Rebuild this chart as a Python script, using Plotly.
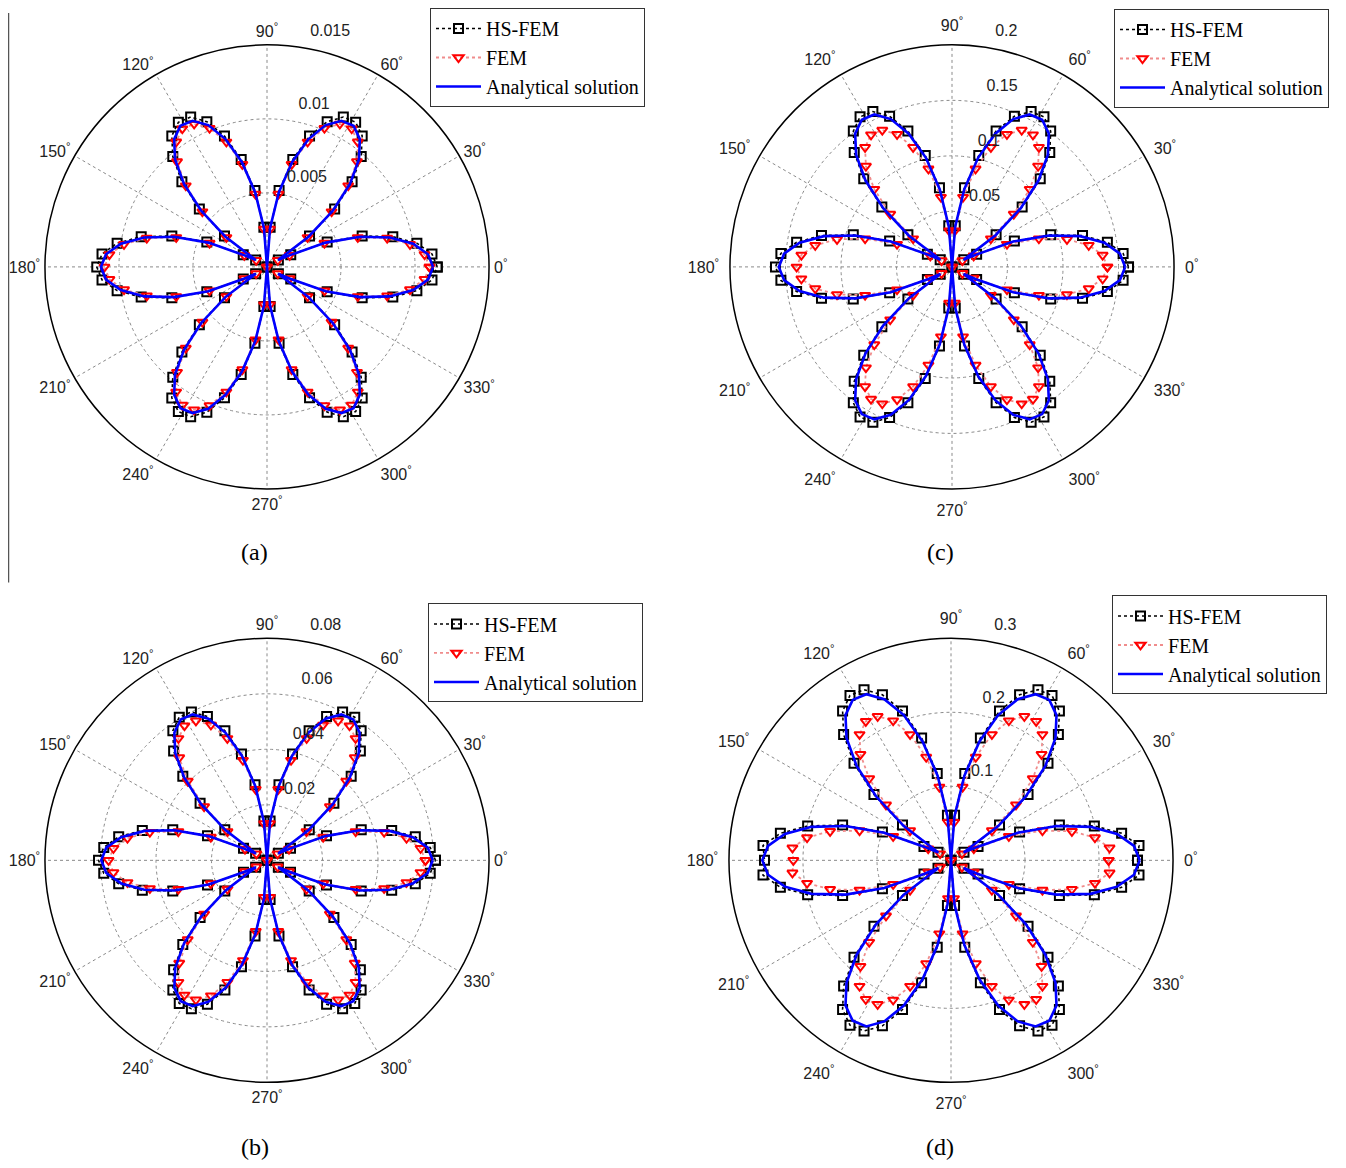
import plotly.graph_objects as go

# page body has an 8px margin, so the figure is drawn 8px smaller and shifted
OFF = 8
FIG_W, FIG_H = 1346 - OFF, 1168 - OFF

# sampling angles (degrees) of the numerical / analytical results
theta_deg = [0, 4.5, 9, 13.5, 18, 22.5, 27, 31.5, 36, 40.5, 45, 49.5, 54, 58.5, 63, 67.5, 72, 76.5, 81, 85.5,
             90, 94.5, 99, 103.5, 108, 112.5, 117, 121.5, 126, 130.5, 135, 139.5, 144, 148.5, 153, 157.5, 162, 166.5, 171, 175.5,
             180, 184.5, 189, 193.5, 198, 202.5, 207, 211.5, 216, 220.5, 225, 229.5, 234, 238.5, 243, 247.5, 252, 256.5, 261, 265.5,
             270, 274.5, 279, 283.5, 288, 292.5, 297, 301.5, 306, 310.5, 315, 319.5, 324, 328.5, 333, 337.5, 342, 346.5, 351, 355.5, 360]

# ---------------- panel (a) ----------------
a_hs = [0.01150, 0.01118, 0.01025, 0.00874, 0.00676, 0.00440, 0.00180, 0.00090, 0.00355, 0.00601, 0.00813, 0.00980, 0.01094, 0.01146, 0.01136, 0.01062, 0.00930, 0.00747, 0.00522, 0.00268, 0.0,
        0.00268, 0.00522, 0.00747, 0.00930, 0.01062, 0.01136, 0.01146, 0.01094, 0.00980, 0.00813, 0.00601, 0.00355, 0.00090, 0.00180, 0.00440, 0.00676, 0.00874, 0.01025, 0.01118, 0.01150,
        0.01118, 0.01025, 0.00874, 0.00676, 0.00440, 0.00180, 0.00090, 0.00355, 0.00601, 0.00813, 0.00980, 0.01094, 0.01146, 0.01136, 0.01062, 0.00930, 0.00747, 0.00522, 0.00268, 0.0,
        0.00268, 0.00522, 0.00747, 0.00930, 0.01062, 0.01136, 0.01146, 0.01094, 0.00980, 0.00813, 0.00601, 0.00355, 0.00090, 0.00180, 0.00440, 0.00676, 0.00874, 0.01025, 0.01118, 0.01150]
a_fem = [0.01098, 0.01068, 0.00978, 0.00835, 0.00645, 0.00420, 0.00172, 0.00086, 0.00339, 0.00574, 0.00776, 0.00936, 0.01044, 0.01095, 0.01084, 0.01014, 0.00888, 0.00713, 0.00498, 0.00256, 0.0,
         0.00256, 0.00498, 0.00713, 0.00888, 0.01014, 0.01084, 0.01095, 0.01044, 0.00936, 0.00776, 0.00574, 0.00339, 0.00086, 0.00172, 0.00420, 0.00645, 0.00835, 0.00978, 0.01068, 0.01098,
         0.01068, 0.00978, 0.00835, 0.00645, 0.00420, 0.00172, 0.00086, 0.00339, 0.00574, 0.00776, 0.00936, 0.01044, 0.01095, 0.01084, 0.01014, 0.00888, 0.00713, 0.00498, 0.00256, 0.0,
         0.00256, 0.00498, 0.00713, 0.00888, 0.01014, 0.01084, 0.01095, 0.01044, 0.00936, 0.00776, 0.00574, 0.00339, 0.00086, 0.00172, 0.00420, 0.00645, 0.00835, 0.00978, 0.01068, 0.01098]
a_an = [0.01122, 0.01091, 0.01000, 0.00853, 0.00660, 0.00429, 0.00175, 0.00088, 0.00347, 0.00586, 0.00793, 0.00957, 0.01067, 0.01119, 0.01108, 0.01037, 0.00908, 0.00729, 0.00509, 0.00262, 0.0,
        0.00262, 0.00509, 0.00729, 0.00908, 0.01037, 0.01108, 0.01119, 0.01067, 0.00957, 0.00793, 0.00586, 0.00347, 0.00088, 0.00175, 0.00429, 0.00660, 0.00853, 0.01000, 0.01091, 0.01122,
        0.01091, 0.01000, 0.00853, 0.00660, 0.00429, 0.00175, 0.00088, 0.00347, 0.00586, 0.00793, 0.00957, 0.01067, 0.01119, 0.01108, 0.01037, 0.00908, 0.00729, 0.00509, 0.00262, 0.0,
        0.00262, 0.00509, 0.00729, 0.00908, 0.01037, 0.01108, 0.01119, 0.01067, 0.00957, 0.00793, 0.00586, 0.00347, 0.00088, 0.00175, 0.00429, 0.00660, 0.00853, 0.01000, 0.01091, 0.01122]

# ---------------- panel (b) ----------------
b_hs = [0.0607, 0.0590, 0.0541, 0.0462, 0.0357, 0.0232, 0.0095, 0.0048, 0.0188, 0.0317, 0.0429, 0.0518, 0.0577, 0.0605, 0.0600, 0.0561, 0.0491, 0.0394, 0.0276, 0.0142, 0.0,
        0.0142, 0.0276, 0.0394, 0.0491, 0.0561, 0.0600, 0.0605, 0.0577, 0.0518, 0.0429, 0.0317, 0.0188, 0.0048, 0.0095, 0.0232, 0.0357, 0.0462, 0.0541, 0.0590, 0.0607,
        0.0590, 0.0541, 0.0462, 0.0357, 0.0232, 0.0095, 0.0048, 0.0188, 0.0317, 0.0429, 0.0518, 0.0577, 0.0605, 0.0600, 0.0561, 0.0491, 0.0394, 0.0276, 0.0142, 0.0,
        0.0142, 0.0276, 0.0394, 0.0491, 0.0561, 0.0600, 0.0605, 0.0577, 0.0518, 0.0429, 0.0317, 0.0188, 0.0048, 0.0095, 0.0232, 0.0357, 0.0462, 0.0541, 0.0590, 0.0607]
b_fem = [0.0571, 0.0555, 0.0509, 0.0434, 0.0336, 0.0219, 0.0089, 0.0045, 0.0176, 0.0298, 0.0404, 0.0487, 0.0543, 0.0569, 0.0564, 0.0528, 0.0462, 0.0371, 0.0259, 0.0133, 0.0,
         0.0133, 0.0259, 0.0371, 0.0462, 0.0528, 0.0564, 0.0569, 0.0543, 0.0487, 0.0404, 0.0298, 0.0176, 0.0045, 0.0089, 0.0219, 0.0336, 0.0434, 0.0509, 0.0555, 0.0571,
         0.0555, 0.0509, 0.0434, 0.0336, 0.0219, 0.0089, 0.0045, 0.0176, 0.0298, 0.0404, 0.0487, 0.0543, 0.0569, 0.0564, 0.0528, 0.0462, 0.0371, 0.0259, 0.0133, 0.0,
         0.0133, 0.0259, 0.0371, 0.0462, 0.0528, 0.0564, 0.0569, 0.0543, 0.0487, 0.0404, 0.0298, 0.0176, 0.0045, 0.0089, 0.0219, 0.0336, 0.0434, 0.0509, 0.0555, 0.0571]
b_an = [0.0597, 0.0581, 0.0532, 0.0454, 0.0351, 0.0228, 0.0093, 0.0047, 0.0184, 0.0312, 0.0422, 0.0509, 0.0568, 0.0595, 0.0590, 0.0552, 0.0483, 0.0388, 0.0271, 0.0139, 0.0,
        0.0139, 0.0271, 0.0388, 0.0483, 0.0552, 0.0590, 0.0595, 0.0568, 0.0509, 0.0422, 0.0312, 0.0184, 0.0047, 0.0093, 0.0228, 0.0351, 0.0454, 0.0532, 0.0581, 0.0597,
        0.0581, 0.0532, 0.0454, 0.0351, 0.0228, 0.0093, 0.0047, 0.0184, 0.0312, 0.0422, 0.0509, 0.0568, 0.0595, 0.0590, 0.0552, 0.0483, 0.0388, 0.0271, 0.0139, 0.0,
        0.0139, 0.0271, 0.0388, 0.0483, 0.0552, 0.0590, 0.0595, 0.0568, 0.0509, 0.0422, 0.0312, 0.0184, 0.0047, 0.0093, 0.0228, 0.0351, 0.0454, 0.0532, 0.0581, 0.0597]

# ---------------- panel (c) ----------------
c_hs = [0.1590, 0.1546, 0.1417, 0.1209, 0.0935, 0.0608, 0.0249, 0.0125, 0.0491, 0.0831, 0.1124, 0.1356, 0.1512, 0.1585, 0.1570, 0.1469, 0.1286, 0.1033, 0.0722, 0.0371, 0.0,
        0.0371, 0.0722, 0.1033, 0.1286, 0.1469, 0.1570, 0.1585, 0.1512, 0.1356, 0.1124, 0.0831, 0.0491, 0.0125, 0.0249, 0.0608, 0.0935, 0.1209, 0.1417, 0.1546, 0.1590,
        0.1546, 0.1417, 0.1209, 0.0935, 0.0608, 0.0249, 0.0125, 0.0491, 0.0831, 0.1124, 0.1356, 0.1512, 0.1585, 0.1570, 0.1469, 0.1286, 0.1033, 0.0722, 0.0371, 0.0,
        0.0371, 0.0722, 0.1033, 0.1286, 0.1469, 0.1570, 0.1585, 0.1512, 0.1356, 0.1124, 0.0831, 0.0491, 0.0125, 0.0249, 0.0608, 0.0935, 0.1209, 0.1417, 0.1546, 0.1590]
c_fem = [0.1400, 0.1361, 0.1247, 0.1065, 0.0823, 0.0536, 0.0219, 0.0110, 0.0433, 0.0732, 0.0990, 0.1194, 0.1332, 0.1396, 0.1383, 0.1293, 0.1133, 0.0909, 0.0636, 0.0327, 0.0,
         0.0327, 0.0636, 0.0909, 0.1133, 0.1293, 0.1383, 0.1396, 0.1332, 0.1194, 0.0990, 0.0732, 0.0433, 0.0110, 0.0219, 0.0536, 0.0823, 0.1065, 0.1247, 0.1361, 0.1400,
         0.1361, 0.1247, 0.1065, 0.0823, 0.0536, 0.0219, 0.0110, 0.0433, 0.0732, 0.0990, 0.1194, 0.1332, 0.1396, 0.1383, 0.1293, 0.1133, 0.0909, 0.0636, 0.0327, 0.0,
         0.0327, 0.0636, 0.0909, 0.1133, 0.1293, 0.1383, 0.1396, 0.1332, 0.1194, 0.0990, 0.0732, 0.0433, 0.0110, 0.0219, 0.0536, 0.0823, 0.1065, 0.1247, 0.1361, 0.1400]
c_an = [0.1560, 0.1517, 0.1390, 0.1186, 0.0917, 0.0597, 0.0244, 0.0122, 0.0482, 0.0815, 0.1103, 0.1330, 0.1484, 0.1555, 0.1541, 0.1441, 0.1262, 0.1013, 0.0708, 0.0364, 0.0,
        0.0364, 0.0708, 0.1013, 0.1262, 0.1441, 0.1541, 0.1555, 0.1484, 0.1330, 0.1103, 0.0815, 0.0482, 0.0122, 0.0244, 0.0597, 0.0917, 0.1186, 0.1390, 0.1517, 0.1560,
        0.1517, 0.1390, 0.1186, 0.0917, 0.0597, 0.0244, 0.0122, 0.0482, 0.0815, 0.1103, 0.1330, 0.1484, 0.1555, 0.1541, 0.1441, 0.1262, 0.1013, 0.0708, 0.0364, 0.0,
        0.0364, 0.0708, 0.1013, 0.1262, 0.1441, 0.1541, 0.1555, 0.1484, 0.1330, 0.1103, 0.0815, 0.0482, 0.0122, 0.0244, 0.0597, 0.0917, 0.1186, 0.1390, 0.1517, 0.1560]

# ---------------- panel (d) ----------------
d_hs = [0.2520, 0.2548, 0.2334, 0.1992, 0.1540, 0.1003, 0.0410, 0.0206, 0.0810, 0.1369, 0.1853, 0.2234, 0.2492, 0.2612, 0.2588, 0.2421, 0.2120, 0.1701, 0.1189, 0.0612, 0.0,
        0.0612, 0.1189, 0.1701, 0.2120, 0.2421, 0.2588, 0.2612, 0.2492, 0.2234, 0.1853, 0.1369, 0.0810, 0.0206, 0.0410, 0.1003, 0.1540, 0.1992, 0.2334, 0.2548, 0.2520,
        0.2548, 0.2334, 0.1992, 0.1540, 0.1003, 0.0410, 0.0206, 0.0810, 0.1369, 0.1853, 0.2234, 0.2492, 0.2612, 0.2588, 0.2421, 0.2120, 0.1701, 0.1189, 0.0612, 0.0,
        0.0612, 0.1189, 0.1701, 0.2120, 0.2421, 0.2588, 0.2612, 0.2492, 0.2234, 0.1853, 0.1369, 0.0810, 0.0206, 0.0410, 0.1003, 0.1540, 0.1992, 0.2334, 0.2548, 0.2520]
d_fem = [0.2130, 0.2149, 0.1969, 0.1680, 0.1299, 0.0846, 0.0346, 0.0173, 0.0683, 0.1155, 0.1563, 0.1884, 0.2102, 0.2203, 0.2183, 0.2042, 0.1788, 0.1435, 0.1003, 0.0516, 0.0,
         0.0516, 0.1003, 0.1435, 0.1788, 0.2042, 0.2183, 0.2203, 0.2102, 0.1884, 0.1563, 0.1155, 0.0683, 0.0173, 0.0346, 0.0846, 0.1299, 0.1680, 0.1969, 0.2149, 0.2130,
         0.2149, 0.1969, 0.1680, 0.1299, 0.0846, 0.0346, 0.0173, 0.0683, 0.1155, 0.1563, 0.1884, 0.2102, 0.2203, 0.2183, 0.2042, 0.1788, 0.1435, 0.1003, 0.0516, 0.0,
         0.0516, 0.1003, 0.1435, 0.1788, 0.2042, 0.2183, 0.2203, 0.2102, 0.1884, 0.1563, 0.1155, 0.0683, 0.0173, 0.0346, 0.0846, 0.1299, 0.1680, 0.1969, 0.2149, 0.2130]
d_an = [0.2550, 0.2480, 0.2272, 0.1939, 0.1499, 0.0976, 0.0399, 0.0200, 0.0788, 0.1332, 0.1803, 0.2174, 0.2425, 0.2542, 0.2519, 0.2356, 0.2063, 0.1656, 0.1158, 0.0595, 0.0,
        0.0595, 0.1158, 0.1656, 0.2063, 0.2356, 0.2519, 0.2542, 0.2425, 0.2174, 0.1803, 0.1332, 0.0788, 0.0200, 0.0399, 0.0976, 0.1499, 0.1939, 0.2272, 0.2480, 0.2550,
        0.2480, 0.2272, 0.1939, 0.1499, 0.0976, 0.0399, 0.0200, 0.0788, 0.1332, 0.1803, 0.2174, 0.2425, 0.2542, 0.2519, 0.2356, 0.2063, 0.1656, 0.1158, 0.0595, 0.0,
        0.0595, 0.1158, 0.1656, 0.2063, 0.2356, 0.2519, 0.2542, 0.2425, 0.2174, 0.1803, 0.1332, 0.0788, 0.0200, 0.0399, 0.0976, 0.1499, 0.1939, 0.2272, 0.2480, 0.2550]

# tick labels
angle_ticks = [0, 30, 60, 90, 120, 150, 180, 210, 240, 270, 300, 330]
angle_labels = [str(a) + "<sup>°</sup>" for a in angle_ticks]

a_rticks = [0.005, 0.01, 0.015]
a_rlabels = ["0.005", "0.01", "0.015"]
b_rticks = [0.02, 0.04, 0.06, 0.08]
b_rlabels = ["0.02", "0.04", "0.06", "0.08"]
c_rticks = [0.05, 0.1, 0.15, 0.2]
c_rlabels = ["0.05", "0.1", "0.15", "0.2"]
d_rticks = [0.1, 0.2, 0.3]
d_rlabels = ["0.1", "0.2", "0.3"]

series_names = ["HS-FEM", "FEM", "Analytical solution"]
captions = ["(a)", "(b)", "(c)", "(d)"]

# layout in page pixels: polar centre, radius, legend top-left, caption centre,
# gap between circle and angular labels
R = 223
panels = [
    dict(pid="polar", leg="legend", hs=a_hs, fem=a_fem, an=a_an, rmax=0.015, rt=a_rticks, rl=a_rlabels,
         cx=267, cy=263, legxy=(430, 3), cap=(255, 549), captxt=captions[0], tl=1),
    dict(pid="polar2", leg="legend2", hs=b_hs, fem=b_fem, an=b_an, rmax=0.08, rt=b_rticks, rl=b_rlabels,
         cx=267, cy=859, legxy=(428, 601), cap=(255, 1147), captxt=captions[1], tl=1),
    dict(pid="polar3", leg="legend3", hs=c_hs, fem=c_fem, an=c_an, rmax=0.2, rt=c_rticks, rl=c_rlabels,
         cx=952, cy=263, legxy=(1114, 4), cap=(940, 549), captxt=captions[2], tl=7),
    dict(pid="polar4", leg="legend4", hs=d_hs, fem=d_fem, an=d_an, rmax=0.3, rt=d_rticks, rl=d_rlabels,
         cx=951, cy=859, legxy=(1112, 593), cap=(940, 1147), captxt=captions[3], tl=7),
]


def px_x(x):
    return (x - OFF) / FIG_W


def px_y(y):
    return 1 - (y - OFF) / FIG_H


TICK_FONT = dict(family="Liberation Sans, Arial, sans-serif", size=16, color="#222222")
LEG_FONT = dict(family="Liberation Serif, Times New Roman, serif", size=20, color="black")
GRID = "#8a8a8a"
# radial labels sit just above their circle (label baseline at the tick)
RAD_LIFT = "<br>\u00a0<br>\u00a0"

fig = go.Figure()
layout_upd = {}
annotations = []

for p in panels:
    fig.add_trace(go.Scatterpolar(
        r=p["hs"], theta=theta_deg, subplot=p["pid"], legend=p["leg"], name=series_names[0],
        mode="lines+markers",
        line=dict(color="black", width=1.6, dash="dot"),
        marker=dict(symbol="square-open", size=9, color="black", line=dict(width=2, color="black")),
    ))
    fig.add_trace(go.Scatterpolar(
        r=p["fem"], theta=theta_deg, subplot=p["pid"], legend=p["leg"], name=series_names[1],
        mode="lines+markers",
        line=dict(color="rgb(240,140,140)", width=1.8, dash="dot"),
        marker=dict(symbol="triangle-down-open", size=9, color="red", line=dict(width=2, color="red")),
    ))
    fig.add_trace(go.Scatterpolar(
        r=p["an"], theta=theta_deg, subplot=p["pid"], legend=p["leg"], name=series_names[2],
        mode="lines",
        line=dict(color="blue", width=2.6),
    ))

    layout_upd[p["pid"]] = dict(
        domain=dict(x=[px_x(p["cx"] - R), px_x(p["cx"] + R)],
                    y=[px_y(p["cy"] + R), px_y(p["cy"] - R)]),
        bgcolor="white",
        angularaxis=dict(
            rotation=0, direction="counterclockwise", thetaunit="degrees",
            tickmode="array", tickvals=angle_ticks, ticktext=angle_labels,
            showline=True, linecolor="black", linewidth=1.5,
            showgrid=True, gridcolor=GRID, griddash="dot", gridwidth=1,
            ticks="outside", ticklen=p["tl"], tickcolor="rgba(0,0,0,0)",
            tickfont=TICK_FONT,
        ),
        radialaxis=dict(
            range=[0, p["rmax"]], tickmode="array", tickvals=p["rt"],
            ticktext=[t + RAD_LIFT for t in p["rl"]],
            angle=81, tickangle=81, side="clockwise",
            showline=False, ticks="",
            showgrid=True, gridcolor=GRID, griddash="dot", gridwidth=1,
            tickfont=TICK_FONT,
        ),
    )
    lx, ly = p["legxy"]
    layout_upd[p["leg"]] = dict(
        x=px_x(lx), y=px_y(ly), xanchor="left", yanchor="top",
        bgcolor="white", bordercolor="#333333", borderwidth=1,
        font=LEG_FONT, itemwidth=45, tracegroupgap=0,
    )
    annotations.append(dict(
        text=p["captxt"], x=px_x(p["cap"][0]), y=px_y(p["cap"][1]),
        xref="paper", yref="paper", xanchor="center", yanchor="middle", showarrow=False,
        font=dict(family="Liberation Serif, Times New Roman, serif", size=24, color="black"),
    ))

fig.update_layout(
    width=FIG_W, height=FIG_H,
    margin=dict(l=0, r=0, t=0, b=0),
    paper_bgcolor="white", plot_bgcolor="white",
    showlegend=True,
    annotations=annotations,
    shapes=[dict(type="line", xref="paper", yref="paper", x0=px_x(8.5), x1=px_x(8.5),
                 y0=px_y(8), y1=px_y(580), line=dict(color="#555555", width=1.5))],
    **layout_upd,
)

fig.write_html("out.html")
